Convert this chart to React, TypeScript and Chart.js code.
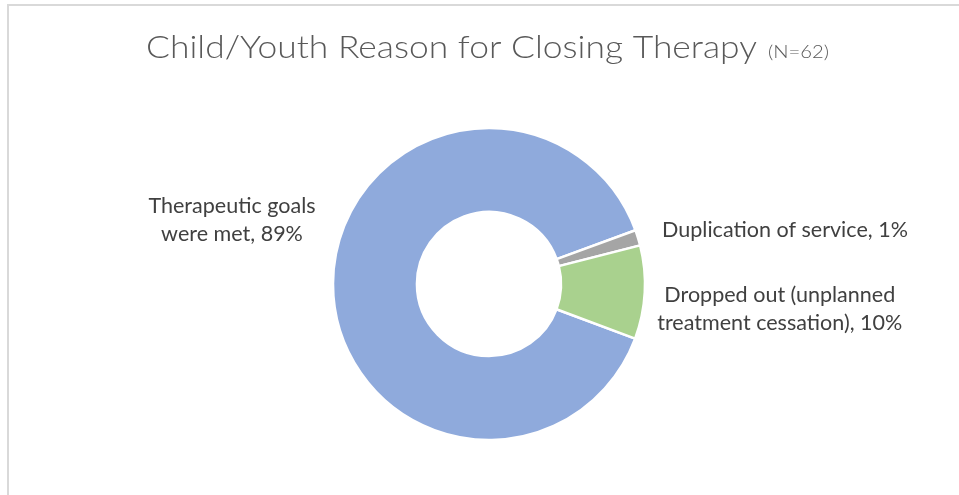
import React, { useEffect, useRef } from "react";
import { Chart, registerables } from "chart.js";

Chart.register(...registerables);

// ---- data ----
const categories = [
  "Therapeutic goals were met",
  "Duplication of service",
  "Dropped out (unplanned treatment cessation)",
];
const counts = [55, 1, 6];
const percentText = ["89%", "1%", "10%"];
const labelLines = [
  ["Therapeutic goals", "were met, " + percentText[0]],
  ["Duplication of service, " + percentText[1]],
  ["Dropped out (unplanned", "treatment cessation), " + percentText[2]],
];
const titleText = "Child/Youth Reason for Closing Therapy";
const titleNote = "(N=62)";

// ---- style ----
const sliceColors = ["#8FAADC", "#A5A5A5", "#A9D18E"];
// label anchor offsets from each slice's outer mid-point (dx to text centre, dy to first baseline)
const labelOffsets: [number, number][] = [
  [-101, -71],
  [147, -1],
  [135, 9.5],
];
const labelLineHeight = 28;
const labelFont = "Lato, 'Open Sans', sans-serif";
const titleFont = "Lato, 'DejaVu Sans', sans-serif";

const titlePlugin = {
  id: "customTitle",
  afterDraw(chart: any) {
    const ctx = chart.ctx as CanvasRenderingContext2D;
    ctx.save();
    ctx.fillStyle = "#595959";
    ctx.textAlign = "left";
    ctx.textBaseline = "alphabetic";
    ctx.font = `300 31px ${titleFont}`;
    let w = ctx.measureText(titleText).width;
    ctx.save();
    ctx.translate(146, 58);
    ctx.scale(611 / w, 1);
    ctx.fillText(titleText, 0, 0);
    ctx.restore();
    ctx.font = `300 17px ${titleFont}`;
    w = ctx.measureText(titleNote).width;
    ctx.save();
    ctx.translate(768, 58);
    ctx.scale(61 / w, 1);
    ctx.fillText(titleNote, 0, 0);
    ctx.restore();
    ctx.restore();
  },
};

const sliceLabelPlugin = {
  id: "sliceLabels",
  afterDatasetsDraw(chart: any) {
    const ctx = chart.ctx as CanvasRenderingContext2D;
    const meta = chart.getDatasetMeta(0);
    ctx.save();
    ctx.font = `20px ${labelFont}`;
    const ref = ctx.measureText(labelLines[1][0]).width;
    const size = (20 * 246) / ref;
    ctx.font = `${size}px ${labelFont}`;
    ctx.fillStyle = "#404040";
    ctx.textAlign = "center";
    ctx.textBaseline = "alphabetic";
    meta.data.forEach((arc: any, i: number) => {
      const p = arc.getProps(["x", "y", "startAngle", "endAngle", "outerRadius"], true);
      const mid = (p.startAngle + p.endAngle) / 2;
      const ax = p.x + Math.cos(mid) * p.outerRadius;
      const ay = p.y + Math.sin(mid) * p.outerRadius;
      const [dx, dy] = labelOffsets[i];
      labelLines[i].forEach((line, j) => {
        ctx.fillText(line, ax + dx, ay + dy + j * labelLineHeight);
      });
    });
    ctx.restore();
  },
};

export default function App() {
  const canvasRef = useRef<HTMLCanvasElement | null>(null);

  useEffect(() => {
    if (!canvasRef.current) return;
    const chart = new Chart(canvasRef.current, {
      type: "doughnut",
      data: {
        labels: categories,
        datasets: [
          {
            data: counts,
            backgroundColor: sliceColors,
            borderColor: "#ffffff",
            borderWidth: 2.5,
          },
        ],
      },
      options: {
        responsive: false,
        animation: false,
        rotation: 110.5,
        radius: 156,
        cutout: "46.2%",
        layout: { padding: { top: 73, left: 19, right: 0, bottom: 0 } },
        plugins: {
          legend: { display: false },
          title: { display: false },
          tooltip: { enabled: false },
        },
      } as any,
      plugins: [titlePlugin, sliceLabelPlugin],
    });
    return () => chart.destroy();
  }, []);

  return (
    <div style={{ position: "fixed", left: 0, top: 0, width: 959, height: 495, background: "#ffffff", overflow: "hidden" }}>
      <div
        style={{
          position: "absolute",
          left: 7,
          top: 4,
          width: 1000,
          height: 1000,
          borderLeft: "2px solid #d9d9d9",
          borderTop: "2px solid #d9d9d9",
        }}
      />
      <canvas ref={canvasRef} width={959} height={495} style={{ position: "absolute", left: 0, top: 0 }} />
    </div>
  );
}
